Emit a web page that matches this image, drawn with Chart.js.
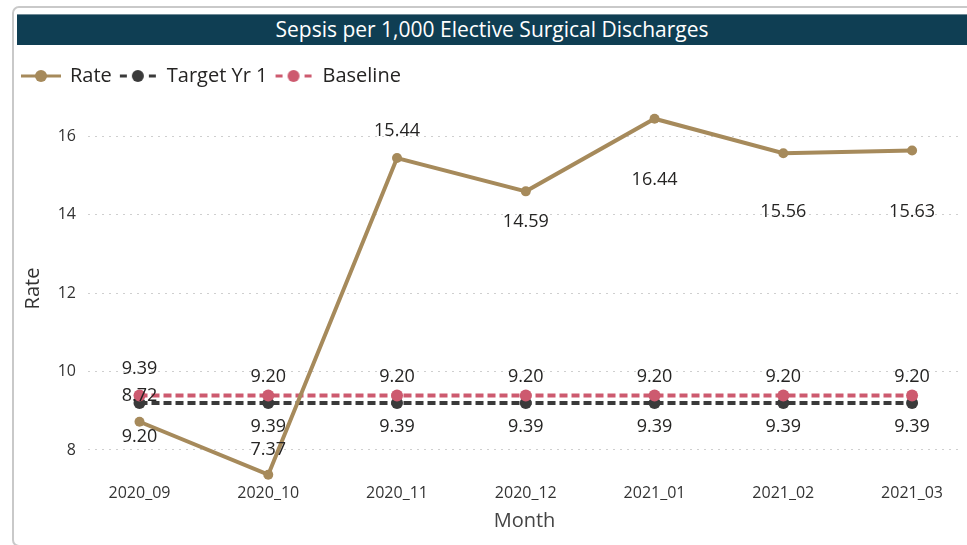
<!DOCTYPE html>
<html>
<head>
<meta charset="utf-8">
<script src="https://cdn.jsdelivr.net/npm/chart.js@4.4.1/dist/chart.umd.min.js"></script>
<style>
  html, body { margin: 0; padding: 0; background: #fff; }
  #wrap { position: relative; width: 967px; height: 545px; overflow: hidden; }
  #card { position: absolute; left: 12px; top: 6px; width: 1000px; height: 537px;
          border: 2px solid #c9c9c9; border-radius: 7px 0 0 7px; background: #fff; }
  #titlebar { position: absolute; left: 17px; top: 14px; width: 950px; height: 31px;
              background: #0f3e53; border-top: 1px solid #6f8a96; box-sizing: border-box;
              color: #fff; font: 21px "Open Sans", sans-serif;
              line-height: 28px; text-align: center; }
  #grafica { position: absolute; left: 0; top: 0; }
</style>
</head>
<body>
<div id="wrap">
  <div id="card"></div>
  <canvas id="grafica" width="967" height="545"></canvas>
  <div id="titlebar">Sepsis per 1,000 Elective Surgical Discharges</div>
</div>
<script>
// valores
const months = ['2020_09', '2020_10', '2020_11', '2020_12', '2021_01', '2021_02', '2021_03'];
const rate = [8.72, 7.37, 15.44, 14.59, 16.44, 15.56, 15.63];
const targetYr1 = [9.20, 9.20, 9.20, 9.20, 9.20, 9.20, 9.20];
const baseline = [9.39, 9.39, 9.39, 9.39, 9.39, 9.39, 9.39];
const yTicks = [8, 10, 12, 14, 16];

const colRate = '#a68a5b';
const colTarget = '#3a3a3a';
const colBase = '#cd5a6f';

function marca(color, dashed) {
    const c = document.createElement('canvas');
    c.width = 44; c.height = 14;
    const g = c.getContext('2d');
    g.strokeStyle = color;
    g.fillStyle = color;
    g.lineWidth = 3;
    g.beginPath();
    if (dashed) {
        g.moveTo(4, 7); g.lineTo(11, 7);
        g.moveTo(33, 7); g.lineTo(40, 7);
    } else {
        g.moveTo(2, 7); g.lineTo(42, 7);
    }
    g.stroke();
    g.beginPath();
    g.arc(22, 7, 6, 0, Math.PI * 2);
    g.fill();
    return c;
}
const marcas = [marca(colRate, false), marca(colTarget, true), marca(colBase, true)];

function puntos(arr) {
    return arr.map((v, i) => ({x: i, y: v}));
}

// desplazamiento vertical de cada etiqueta respecto a su punto
const etiquetas = {
    id: 'etiquetas',
    afterDatasetsDraw(chart, args, opts) {
        const ctx = chart.ctx;
        ctx.save();
        ctx.font = '18px "Open Sans", sans-serif';
        ctx.fillStyle = '#252423';
        ctx.textAlign = 'center';
        ctx.textBaseline = 'middle';
        chart.data.datasets.forEach((ds, di) => {
            const meta = chart.getDatasetMeta(di);
            meta.data.forEach((pt, i) => {
                const off = opts.offsets[di][i];
                ctx.fillText(ds.data[i].y.toFixed(2), pt.x, pt.y + off);
            });
        });
        ctx.restore();
    }
};

const ctx = document.getElementById('grafica');
const mychart = new Chart(ctx, {
    type: 'line',
    data: {
        datasets: [{
            label: 'Rate',
            data: puntos(rate),
            borderColor: colRate,
            backgroundColor: colRate,
            borderWidth: 4,
            pointRadius: 5,
            pointBorderWidth: 0,
            order: 0
        }, {
            label: 'Target Yr 1',
            data: puntos(targetYr1),
            borderColor: colTarget,
            backgroundColor: colTarget,
            borderWidth: 4,
            borderDash: [8, 4],
            pointRadius: 6,
            pointBorderWidth: 0,
            order: 2
        }, {
            label: 'Baseline',
            data: puntos(baseline),
            borderColor: colBase,
            backgroundColor: colBase,
            borderWidth: 4,
            borderDash: [8, 4],
            pointRadius: 6,
            pointBorderWidth: 0,
            order: 1
        }]
    },
    plugins: [etiquetas],
    options: {
        responsive: false,
        animation: false,
        layout: { padding: { left: 15, top: 59, right: 0, bottom: 0 } },
        plugins: {
            tooltip: { enabled: false },
            legend: {
                position: 'top',
                align: 'start',
                labels: {
                    usePointStyle: true,
                    pointStyleWidth: 38,
                    padding: 7,
                    color: '#252423',
                    font: { family: 'Open Sans', size: 20 },
                    generateLabels: (chart) => chart.data.datasets.map((ds, i) => ({
                        text: ds.label,
                        pointStyle: marcas[i],
                        fillStyle: ds.borderColor,
                        strokeStyle: ds.borderColor,
                        lineWidth: 0,
                        hidden: false,
                        datasetIndex: i,
                        fontColor: '#252423'
                    }))
                }
            },
            etiquetas: {
                offsets: [
                    [-26, -25, -27, 31, 61, 59, 61],
                    [34, -26, -26, -26, -26, -26, -26],
                    [-27, 31, 31, 31, 31, 31, 31]
                ]
            }
        },
        scales: {
            x: {
                type: 'linear',
                min: -0.4,
                max: 6.38,
                grid: { display: false, drawTicks: false },
                border: { display: false },
                afterBuildTicks: (s) => { s.ticks = months.map((m, i) => ({value: i})); },
                afterFit: (s) => { s.height = 64; },
                ticks: {
                    autoSkip: false,
                    maxRotation: 0,
                    padding: 3,
                    color: '#333',
                    font: { family: 'Open Sans', size: 16 },
                    callback: (v) => months[v] || ''
                },
                title: {
                    display: true,
                    text: 'Month',
                    color: '#444',
                    font: { family: 'Open Sans', size: 20 },
                    padding: { top: 0, bottom: 12 }
                }
            },
            y: {
                min: 7.21,
                max: 17.02,
                grid: { color: '#cfcfcf', lineWidth: 1, drawTicks: false },
                border: { display: false, dash: [2, 5] },
                afterBuildTicks: (s) => { s.ticks = yTicks.map(v => ({value: v})); },
                afterFit: (s) => { s.width = 73; },
                ticks: {
                    padding: 12,
                    color: '#333',
                    font: { family: 'Open Sans', size: 16 }
                },
                title: {
                    display: true,
                    text: 'Rate',
                    color: '#333',
                    font: { family: 'Open Sans', size: 20 },
                    padding: { top: 6, bottom: 0 }
                }
            }
        }
    }
});
</script>
</body>
</html>
